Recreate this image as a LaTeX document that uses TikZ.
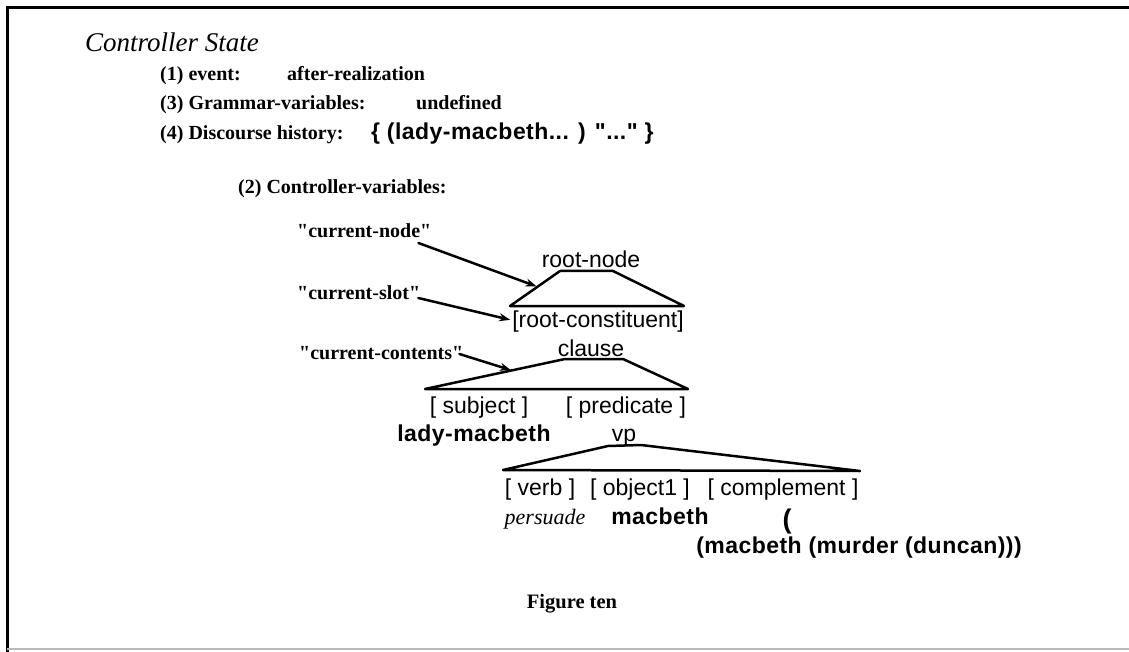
\documentclass[tikz,border=0pt]{standalone}
\usepackage{fontspec}
\setmainfont{Liberation Serif}[Ligatures=TeXOff]
\setsansfont{Liberation Sans}[Ligatures=TeXOff]
\newfontfamily\spacedsans{Liberation Sans}[Ligatures=TeXOff,LetterSpace=2]
\usetikzlibrary{arrows.meta,calc}

\tikzset{
  heading/.style={font=\fontsize{27}{31}\selectfont\itshape, anchor=base west, inner sep=0pt},
  entry/.style={font=\fontsize{20}{24}\selectfont\bfseries, anchor=base west, inner sep=0pt},
  value/.style={font=\fontsize{23}{27}\selectfont\spacedsans\bfseries, anchor=base west, inner sep=0pt},
  slot/.style={font=\fontsize{23}{27}\selectfont\sffamily, anchor=base, inner sep=0pt},
  filler/.style={font=\fontsize{23}{27}\selectfont\spacedsans\bfseries, anchor=base, inner sep=0pt},
  caption/.style={font=\fontsize{20.5}{24}\selectfont\bfseries, anchor=base, inner sep=0pt},
  tri/.style={line width=2.5pt, line join=round, line cap=round},
  pointer/.style={line width=2.5pt, line cap=round, -{Stealth[length=11pt,width=8pt]}, shorten >=1pt},
}

\begin{document}
\begin{tikzpicture}[x=1pt,y=-1pt]
\useasboundingbox (0,0) rectangle (1129,652);

% frame
\draw[line width=3pt] (1129,8) -- (7,8) -- (7,652);
\draw[gray!55, line width=1.2pt] (7,649) -- (1129,649);

% controller state listing
\node[heading] (title) at (85,52) {Controller State};
\node[entry] (ev) at (160,81) {(1) event:};
\node[entry] (evv) at (287,81) {after-realization};
\node[entry] (gv) at (160,110) {(3) Grammar-variables:};
\node[entry] (gvv) at (416,110) {undefined};
\node[entry] (dh) at (160,140) {(4) Discourse history:};
\node[value] (dhv) at (371,140) {\{ (lady-macbeth... ) "..." \}};
\node[entry] (cv) at (238,194) {(2) Controller-variables:};

% pointer names
\node[entry] (cn) at (297,238) {"current-node"};
\node[entry] (cs) at (297,299) {"current-slot"};
\node[entry] (cc) at (299,359) {"current-contents"};

% root level
\node[slot] (rn) at (591,268) {root-node};
\node[slot] (rc) at (598,327) {[root-constituent]};
\coordinate (rbl) at (510,306);
\coordinate (rtl) at (560,271);
\coordinate (rtr) at (613,271);
\coordinate (rbr) at (684,306);
\draw[tri] (rbl) -- (rtl) -- (rtr) -- (rbr) -- cycle;

% clause level
\node[slot] (cl) at (591,356) {clause};
\coordinate (cbl) at (425,389);
\coordinate (ctl) at (565,359);
\coordinate (ctr) at (623,359);
\coordinate (cbr) at (688,389);
\draw[tri] (cbl) -- (ctl) -- (ctr) -- (cbr) -- cycle;
\node[slot] (subj) at (479,413) {[ subject ]};
\node[slot] (pred) at (626,413) {[ predicate ]};
\node[filler] (lm) at (474,441) {lady-macbeth};
\node[slot] (vp) at (624,441) {vp};

% verb phrase level
\coordinate (vbl) at (503,470);
\coordinate (vtl) at (608,446);
\coordinate (vtr) at (641,445);
\coordinate (vbr) at (860,471);
\draw[tri] (vbl) -- (vtl) -- (vtr) -- (vbr) -- cycle;
\node[slot] (verb) at (540,495) {[ verb ]};
\node[slot] (obj) at (640,495) {[ object1 ]};
\node[slot] (comp) at (783,495) {[ complement ]};
\node[font=\fontsize{22}{26}\selectfont\itshape, anchor=base, inner sep=0pt] (pers) at (545,524) {persuade};
\node[filler] (mb) at (660,524) {macbeth};
\node[filler, font=\fontsize{27}{31}\selectfont\sffamily\bfseries] (par) at (787,528) {(};
\node[filler] (mmd) at (859,553) {(macbeth (murder (duncan)))};

% pointers
\draw[pointer] ([shift={(-13,5)}]cn.base east) -- ($(rbl)!0.55!(rtl)$);
\draw[pointer] ([shift={(-2,-1)}]cs.base east) -- ([shift={(-1,-1)}]rc.west);
\draw[pointer] ([shift={(-4,-5)}]cc.base east) -- ($(cbl)!0.62!(ctl)$);

\node[caption] (fig) at (572,608) {Figure ten};
\end{tikzpicture}
\end{document}
